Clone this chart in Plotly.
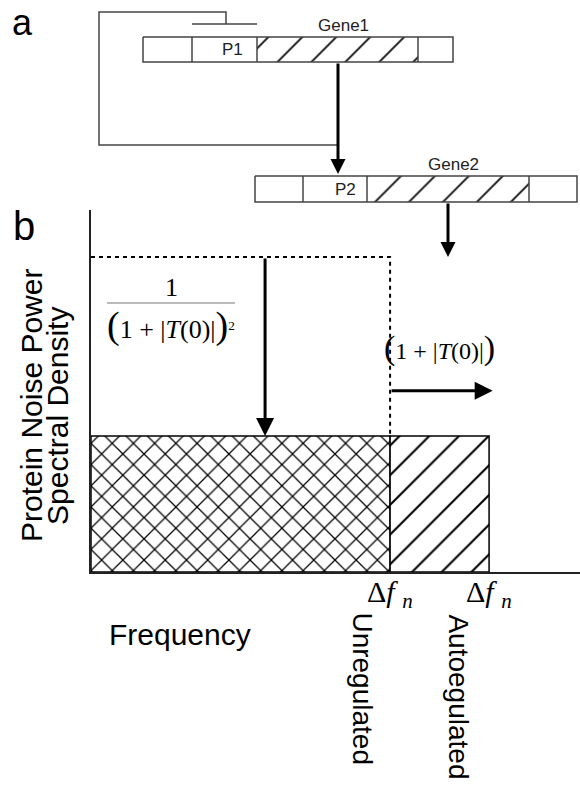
import plotly.graph_objects as go

# ---------------- Part b data (relative units) ----------------
bandwidth_labels = ["Unregulated", "Autoegulated"]
bandwidths = [1.0, 1.331]          # noise bandwidth Δf_n
psd_levels = [1.0, 0.432]          # protein noise power spectral density level
freq_max = 1.635
psd_max = 1.149

# ---------------- Part a schematic (canvas units) ----------------
gene1_segments = [143, 192, 257, 418, 453]
gene1_y = [37, 62]
gene2_segments = [255, 303, 367, 529, 577]
gene2_y = [176, 202]
feedback_x = [226, 226, 99, 99, 338]
feedback_y = [24, 12, 12, 145, 145]
repressor_x = [192, 257]
repressor_y = [24, 24]

W, H = 580, 786
SANS = "Liberation Sans, Arial, sans-serif"
SERIF = "Liberation Serif, Times New Roman, serif"
LINE = "#444"

fig = go.Figure()

# ---- part b: spectra as bars ----
fig.add_trace(go.Bar(
    x=[bandwidths[0] / 2], y=[psd_levels[1]], width=[bandwidths[0]],
    marker=dict(color="white", line=dict(color="black", width=1.5),
                pattern=dict(shape="x", size=15, solidity=0.16, fgopacity=1,
                             fgcolor="black", bgcolor="white")),
    xaxis="x", yaxis="y", hoverinfo="skip", showlegend=False))
fig.add_trace(go.Bar(
    x=[(bandwidths[0] + bandwidths[1]) / 2], y=[psd_levels[1]],
    width=[bandwidths[1] - bandwidths[0]],
    marker=dict(color="white", line=dict(color="black", width=1.5),
                pattern=dict(shape="/", size=21, solidity=0.1, fgopacity=1,
                             fgcolor="black", bgcolor="white")),
    xaxis="x", yaxis="y", hoverinfo="skip", showlegend=False))
# unregulated spectrum (dotted)
fig.add_trace(go.Scatter(
    x=[0, bandwidths[0], bandwidths[0]],
    y=[psd_levels[0], psd_levels[0], psd_levels[1]],
    mode="lines", line=dict(color="black", width=2, dash="4px,4px"),
    xaxis="x", yaxis="y", hoverinfo="skip", showlegend=False))

# ---- part a: gene boxes ----
def gene_box(segs, ys):
    x0, x1 = segs[0], segs[-1]
    y0, y1 = ys
    xs = [x0, x1, x1, x0, x0, None]
    yy = [y0, y0, y1, y1, y0, None]
    for s in segs[1:-1]:
        xs += [s, s, None]
        yy += [y0, y1, None]
    return xs, yy

for segs, ys in [(gene1_segments, gene1_y), (gene2_segments, gene2_y)]:
    hx = [segs[2], segs[3], segs[3], segs[2], segs[2]]
    hy = [ys[0], ys[0], ys[1], ys[1], ys[0]]
    fig.add_trace(go.Scatter(
        x=hx, y=hy, mode="none", fill="toself",
        fillpattern=dict(shape="/", size=24, solidity=0.08, fgopacity=1,
                         fgcolor="#111", bgcolor="white"),
        xaxis="x2", yaxis="y2", hoverinfo="skip", showlegend=False))
    bx, by = gene_box(segs, ys)
    fig.add_trace(go.Scatter(
        x=bx, y=by, mode="lines", line=dict(color=LINE, width=1.5),
        xaxis="x2", yaxis="y2", hoverinfo="skip", showlegend=False))

fig.add_trace(go.Scatter(
    x=feedback_x + [None] + repressor_x, y=feedback_y + [None] + repressor_y,
    mode="lines", line=dict(color=LINE, width=1.5),
    xaxis="x2", yaxis="y2", hoverinfo="skip", showlegend=False))

annotations = []

def arrow(x, y, ax, ay, xref, yref, head=2, size=1.0, width=3):
    annotations.append(dict(
        x=x, y=y, ax=ax, ay=ay, xref=xref, yref=yref, axref=xref, ayref=yref,
        showarrow=True, arrowhead=head, arrowsize=size, arrowwidth=width,
        arrowcolor="black", text="", standoff=0, startstandoff=0))

# part a arrows
arrow(338, 174, 338, 62, "x2", "y2", size=1.0)
arrow(448, 257, 448, 202, "x2", "y2", size=1.0)
# part b arrows
arrow(bandwidths[0] * 0.582, psd_levels[1], bandwidths[0] * 0.582, psd_levels[0],
      "x", "y", size=1.2)
arrow(bandwidths[1] + 0.012, 0.575, bandwidths[0], 0.575, "x", "y", size=1.2)

def txt(x, y, text, size, family=SANS, angle=0, xref="x2", yref="y2",
        xanchor="center", yanchor="middle", color="black"):
    annotations.append(dict(
        x=x, y=y, text=text, xref=xref, yref=yref, showarrow=False,
        font=dict(size=size, family=family, color=color), textangle=angle,
        xanchor=xanchor, yanchor=yanchor))

txt(22, 22, "a", 36)
txt(24, 226, "b", 40)
txt(343, 25, "Gene1", 17, color="#222")
txt(453, 164, "Gene2", 17, color="#222")
txt(232, 49, "P1", 17, color="#222")
txt(345, 189, "P2", 17, color="#222")

txt(31, 406, "Protein Noise Power", 30, angle=-90)
txt(57, 416, "Spectral Density", 30, angle=-90)
txt(180, 634, "Frequency", 30)

# fraction 1/(1+|T(0)|)^2
txt(171, 287, "1", 26, family=SERIF)
annotations.append(dict(
    x=171, y=325, xref="x2", yref="y2", showarrow=False,
    text="<span style='font-size:38px'>(</span>1 + |<i>T</i>(0)|"
         "<span style='font-size:38px'>)</span>"
         "<span style='font-size:19px'><sup>2</sup></span>",
    font=dict(size=26, family=SERIF, color="black")))
fig.add_shape(type="line", x0=107, x1=235, y0=303, y1=303, xref="x2", yref="y2",
              line=dict(color="#777", width=1))
annotations.append(dict(
    x=(bandwidths[0] + bandwidths[1]) / 2, y=348, xref="x", yref="y2",
    showarrow=False,
    text="<span style='font-size:34px'>(</span>1 + |<i>T</i>(0)|"
         "<span style='font-size:34px'>)</span>",
    font=dict(size=24, family=SERIF, color="black")))

# Δf_n labels and rotated names
for bw, lab in zip(bandwidths, bandwidth_labels):
    annotations.append(dict(
        x=bw, y=594, xref="x", yref="y2", showarrow=False,
        text="Δ<i>f</i> <sub><i>n</i></sub>",
        font=dict(size=30, family=SERIF, color="black")))
annotations.append(dict(
    x=bandwidths[0], y=610, xref="x", yref="y2", showarrow=False, xshift=-28,
    text=bandwidth_labels[0], textangle=90, yanchor="top",
    font=dict(size=28, family=SANS, color="black")))
annotations.append(dict(
    x=bandwidths[1], y=612, xref="x", yref="y2", showarrow=False, xshift=-31,
    text=bandwidth_labels[1], textangle=90, yanchor="top",
    font=dict(size=28, family=SANS, color="black")))

fig.update_layout(
    width=W, height=H, margin=dict(l=0, r=0, t=0, b=0, pad=0),
    paper_bgcolor="white", plot_bgcolor="rgba(0,0,0,0)",
    barmode="overlay", showlegend=False,
    xaxis=dict(domain=[91 / W, 1], range=[0, freq_max], showgrid=False,
               zeroline=False, showticklabels=False, ticks="",
               showline=True, linewidth=2, linecolor="#222", anchor="y"),
    yaxis=dict(domain=[1 - 572 / H, 1 - 210 / H], range=[0, psd_max],
               showgrid=False, zeroline=False, showticklabels=False, ticks="",
               showline=True, linewidth=2, linecolor="#222", anchor="x"),
    xaxis2=dict(domain=[0, 1], range=[0, W], visible=False, anchor="y2"),
    yaxis2=dict(domain=[0, 1], range=[H, 0], visible=False, anchor="x2"),
    annotations=annotations,
)

fig.write_html(
    "out.html",
    config={"displayModeBar": False},
    post_script="document.body.style.margin='0';"
                "document.body.style.overflow='hidden';",
)
